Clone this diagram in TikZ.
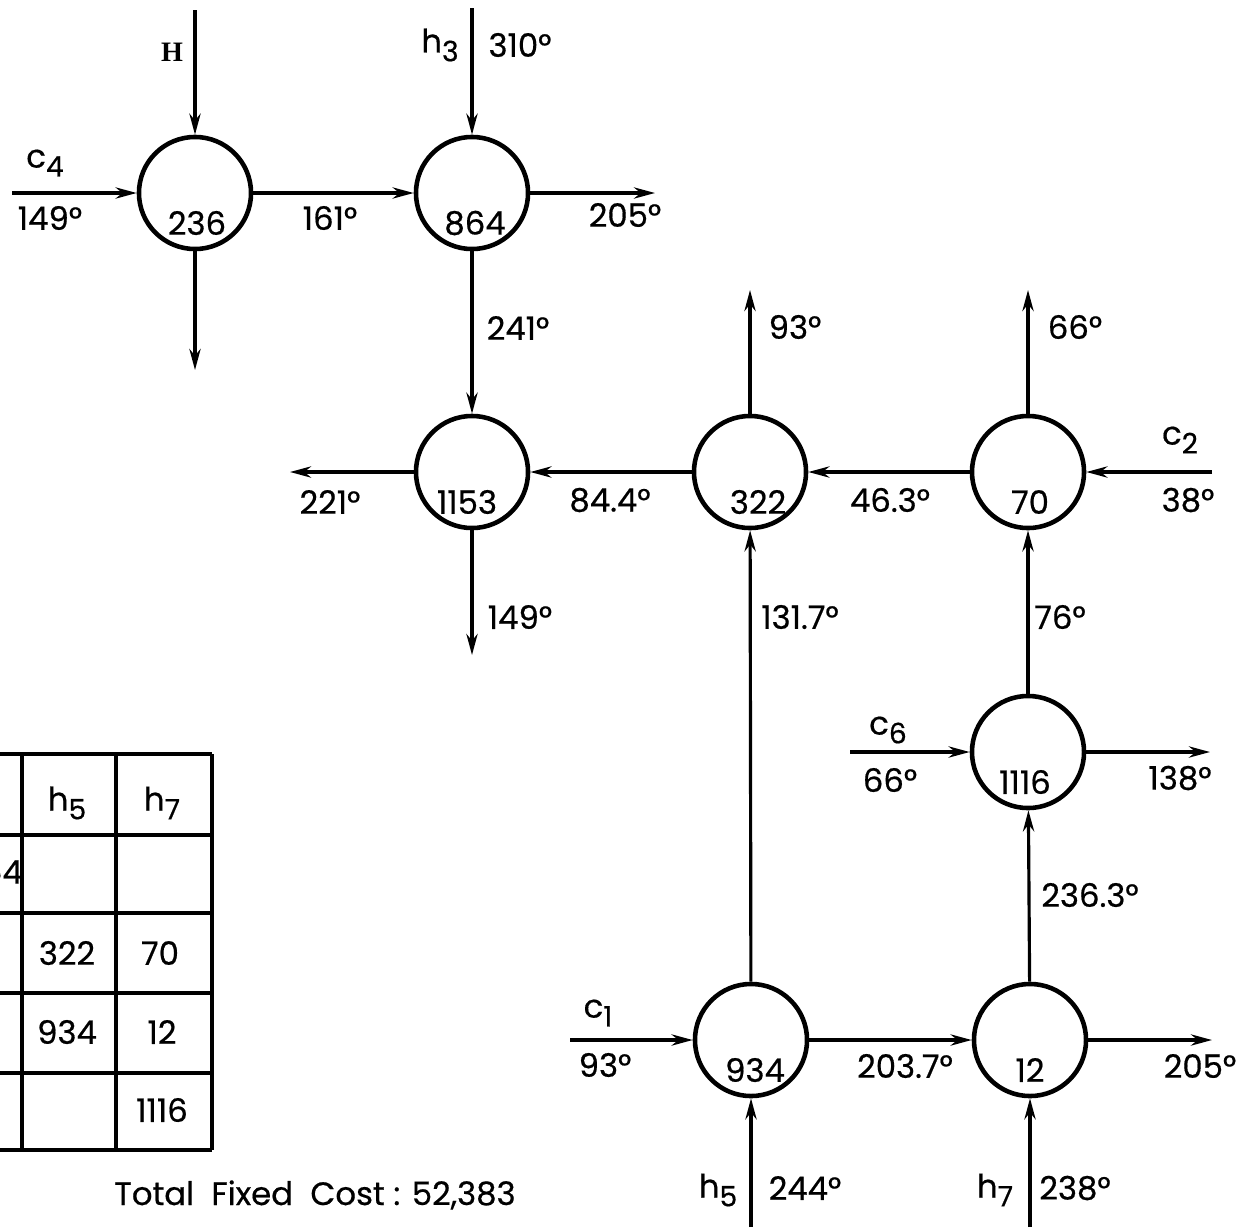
\documentclass[tikz,border=0pt]{standalone}
\usepackage{fontspec}
\setmainfont{Poppins}[UprightFeatures={FakeBold=0.5}]
\newfontfamily\serifH{Liberation Serif}
\usetikzlibrary{arrows.meta,calc}
\newcommand\lsub[1]{\raisebox{-0.5ex}{\footnotesize #1}}

\begin{document}
\begin{tikzpicture}[x=0.01cm,y=-0.01cm,font=\fontsize{9.2}{10}\selectfont,
 hx/.style={circle,draw,line width=1.3pt,minimum size=1.12cm,inner sep=0pt},
 flow/.style={-{Stealth[length=6pt,width=3.2pt]},line width=0.9pt},
 grid line/.style={line width=1.1pt}]
 \useasboundingbox (0,0) rectangle (1237,1227);
 \clip (0,0) rectangle (1237,1227);
 % exchangers
 \foreach \nm/\x/\y/\dx in {236/195/193/2,864/472/193/3,1153/472/472/-5,322/750/472/8,
   70/1028/472/2,1116/1028/752/-3,934/751/1040/4,12/1030/1040/0}{
  \node[hx] (n\nm) at (\x,\y) {};
  \node (t\nm) at (\x+\dx,\y+30) {\nm};
 }
 % free ends
 \coordinate (eH) at (195,10);
 \coordinate (eC4) at (12,193);
 \coordinate (e236) at (195,370);
 \coordinate (eH3) at (472,8);
 \coordinate (e864) at (655,193);
 \coordinate (e1153w) at (290,472);
 \coordinate (e1153s) at (472,655);
 \coordinate (e322) at (750,290);
 \coordinate (e70) at (1028,290);
 \coordinate (eC2) at (1212,472);
 \coordinate (eC6) at (850,752);
 \coordinate (e1116) at (1210,752);
 \coordinate (eC1) at (570,1040);
 \coordinate (e12) at (1212,1040);
 \coordinate (eH5) at (751,1227);
 \coordinate (eH7) at (1030,1227);
 % streams
 \draw[flow] (eH) -- (n236);
 \draw[flow] (eC4) -- (n236);
 \draw[flow] (n236) -- (e236);
 \draw[flow] (n236) -- (n864);
 \draw[flow] (eH3) -- (n864);
 \draw[flow] (n864) -- (e864);
 \draw[flow] (n864) -- (n1153);
 \draw[flow] (n1153) -- (e1153w);
 \draw[flow] (n1153) -- (e1153s);
 \draw[flow] (n322) -- (n1153);
 \draw[flow] (n322) -- (e322);
 \draw[flow] (n70) -- (n322);
 \draw[flow] (n70) -- (e70);
 \draw[flow] (eC2) -- (n70);
 \draw[flow] (n1116) -- (n70);
 \draw[flow] (eC6) -- (n1116);
 \draw[flow] (n1116) -- (e1116);
 \draw[flow] (n12) -- (n1116);
 \draw[flow] (n934) -- (n322);
 \draw[flow] (eC1) -- (n934);
 \draw[flow] (n934) -- (n12);
 \draw[flow] (n12) -- (e12);
 \draw[flow] (eH5) -- (n934);
 \draw[flow] (eH7) -- (n12);
 % stream labels
 \node (lH) at (172,52) {\serifH\bfseries\footnotesize H};
 \foreach \nm/\x/\y/\t in {lC4/45/163/{c\lsub{4}},l149a/50/218/{149°},l161/330/218/{161°},
   lH3/440/45/{h\lsub{3}},l310/520/45/{310°},l205a/625/215/{205°},l241/518/328/{241°},
   l221/330/502/{221°},l844/610/500/{84.4°},l149b/520/617/{149°},l93a/795/327/{93°},
   l463/890/500/{46.3°},l66a/1075/327/{66°},lC2/1180/440/{c\lsub{2}},l38/1188/500/{38°},
   l1317/800/617/{131.7°},l76/1060/617/{76°},lC6/888/730/{c\lsub{6}},l66b/890/780/{66°},
   l138/1180/778/{138°},l2363/1090/895/{236.3°},lC1/598/1013/{c\lsub{1}},l93b/605/1065/{93°},
   l2037/905/1066/{203.7°},l205b/1200/1066/{205°},lH5/718/1190/{h\lsub{5}},l244/805/1188/{244°},
   lH7/995/1190/{h\lsub{7}},l238/1075/1188/{238°}}{
  \node (\nm) at (\x,\y) {\t};
 }
 % match table
 \foreach \yy in {754,835,913,993,1073,1150}{
  \draw[grid line] (0,\yy) -- (212,\yy);
 }
 \foreach \xx in {22,116,212}{
  \draw[grid line] (\xx,754) -- (\xx,1150);
 }
 \foreach \nm/\x/\y/\t in {c1/67/803/{h\lsub{5}},c2/162/803/{h\lsub{7}},
   c4/67/953/{322},c5/160/953/{70},c6/67/1032/{934},c7/162/1032/{12},c8/162/1110/{1116},
   c10/-8/872/{864}}{
  \node (\nm) at (\x,\y) {\t};
 }
 \node (cost) at (315,1195) {Total\ \ Fixed\ \ Cost : 52,383};
\end{tikzpicture}
\end{document}
